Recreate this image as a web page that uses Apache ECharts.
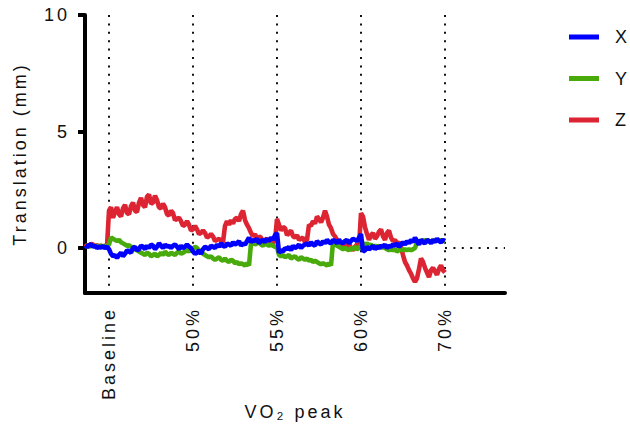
<!DOCTYPE html>
<html>
<head>
<meta charset="utf-8">
<script src="https://cdn.jsdelivr.net/npm/echarts@6.0.0/dist/echarts.min.js"></script>
<style>
  html, body { margin: 0; padding: 0; background: #fff; }
  #chart { width: 630px; height: 430px; }
  #chart text { letter-spacing: 3px; }
</style>
</head>
<body>
<div id="chart"></div>
<script>
// Exercise stages and the sample index at which each stage starts
const stageLabels = ['Baseline', '50%', '55%', '60%', '70%'];
const stageSample = [12, 54, 96, 138, 180];
const sampleCount = 211;          // samples spanned by the x axis
const yTicks = [0, 5, 10];

// Head translation (mm) per sample
const transX = [
  0.1, 0.05, 0.12, 0.15, 0.05, 0.1, 0.0, 0.06, 0.02, 0.08,
  0.0, 0.05, -0.05, -0.25, -0.35, -0.3, -0.42, -0.3, -0.2, -0.35,
  -0.25, -0.1, -0.15, -0.2, 0.0, 0.05, -0.1, -0.05, 0.1, 0.05,
  -0.05, 0.1, 0.0, 0.15, 0.1, -0.05, 0.05, 0.2, 0.1, 0.0,
  0.15, 0.05, 0.1, 0.0, 0.1, 0.15, 0.05, -0.05, 0.1, 0.0,
  0.05, 0.15, 0.05, 0.0, -0.15, -0.25, -0.2, -0.1, -0.25, -0.05,
  0.05, 0.0, -0.05, 0.1, 0.05, 0.0, 0.15, 0.05, 0.2, 0.1,
  0.05, 0.2, 0.15, 0.1, 0.25, 0.15, 0.2, 0.3, 0.1, 0.2,
  0.15, 0.3, 0.45, 0.25, 0.35, 0.3, 0.4, 0.2, 0.3, 0.35,
  0.25, 0.4, 0.3, 0.45, 0.35, 0.55, 0.65, -0.2, -0.1, -0.15,
  0.0, -0.05, 0.05, -0.1, 0.1, 0.0, 0.05, 0.15, 0.0, 0.1,
  0.15, 0.2, 0.1, 0.25, 0.15, 0.1, 0.3, 0.2, 0.15, 0.3,
  0.2, 0.35, 0.25, 0.2, 0.35, 0.3, 0.2, 0.35, 0.25, 0.2,
  0.3, 0.35, 0.2, 0.3, 0.4, 0.35, 0.3, 0.45, 0.6, -0.15,
  -0.1, 0.05, -0.05, 0.0, 0.1, -0.05, 0.05, 0.0, 0.1, 0.05,
  0.15, 0.0, 0.1, 0.05, 0.15, 0.1, 0.2, 0.05, 0.15, 0.25,
  0.15, 0.3, 0.2, 0.35, 0.25, 0.45, 0.3, 0.15, 0.35, 0.25,
  0.2, 0.35, 0.3, 0.2, 0.35, 0.25, 0.4, 0.3, 0.25, 0.35,
  0.3
];
const transY = [
  0.1, 0.08, 0.05, 0.12, 0.1, 0.08, 0.1, 0.05, 0.1, 0.06,
  0.1, 0.08, 0.15, 0.45, 0.4, 0.35, 0.3, 0.35, 0.25, 0.2,
  0.15, 0.1, 0.12, 0.05, 0.0, -0.05, -0.1, -0.15, -0.2, -0.25,
  -0.3, -0.2, -0.25, -0.35, -0.3, -0.25, -0.35, -0.3, -0.2, -0.3,
  -0.15, -0.25, -0.3, -0.2, -0.25, -0.3, -0.2, -0.15, -0.25, -0.2,
  -0.15, -0.1, -0.15, -0.05, -0.05, 0.05, 0.0, -0.1, -0.15, -0.25,
  -0.3, -0.35, -0.4, -0.35, -0.45, -0.5, -0.45, -0.4, -0.5, -0.55,
  -0.45, -0.55, -0.6, -0.5, -0.55, -0.65, -0.6, -0.7, -0.65, -0.7,
  -0.75, -0.65, -0.75, 0.2, 0.25, 0.15, 0.2, 0.25, 0.15, 0.1,
  0.2, 0.15, 0.1, 0.15, 0.1, 0.05, 0.05, -0.3, -0.35, -0.3,
  -0.4, -0.35, -0.3, -0.45, -0.4, -0.35, -0.45, -0.5, -0.4, -0.45,
  -0.5, -0.45, -0.55, -0.5, -0.6, -0.55, -0.6, -0.65, -0.7, -0.65,
  -0.7, -0.75, -0.65, -0.75, 0.25, 0.2, 0.1, 0.05, 0.0, -0.05,
  0.0, -0.05, -0.1, 0.0, -0.05, 0.05, -0.05, 0.0, 0.1, 0.2,
  0.15, 0.2, 0.1, 0.15, 0.05, 0.1, 0.05, 0.1, 0.0, 0.05,
  0.0, -0.05, -0.1, -0.05, -0.1, -0.05, -0.15, -0.1, -0.05, -0.1,
  -0.05, -0.1, -0.05, -0.1, -0.05, 0.0, 0.25, 0.3, 0.3, 0.35,
  0.3, 0.35, 0.3, 0.25, 0.35, 0.3, 0.35, 0.3, 0.35, 0.3,
  0.3
];
const transZ = [
  0.05, 0.12, 0.1, 0.18, 0.15, 0.08, 0.12, 0.06, 0.1, 0.04,
  0.06, 0.08, 1.6, 1.75, 1.3, 1.55, 1.75, 1.45, 1.35, 1.7,
  1.85, 1.5, 1.45, 1.8, 1.95, 1.6, 1.55, 1.95, 2.15, 1.85,
  1.75, 2.2, 2.3, 1.9, 1.95, 2.25, 2.05, 1.75, 1.7, 1.9,
  1.75, 1.45, 1.4, 1.6, 1.5, 1.2, 1.25, 1.3, 1.15, 0.95,
  1.0, 1.15, 1.0, 0.75, 0.8, 0.95, 0.8, 0.6, 0.65, 0.75,
  0.65, 0.45, 0.5, 0.6, 0.5, 0.3, 0.35, 0.4, 0.3, 0.25,
  0.95, 1.15, 1.0, 1.2, 1.05, 1.25, 1.3, 1.15, 1.45, 1.6,
  1.2, 1.0, 0.85, 0.65, 0.5, 0.6, 0.35, 0.5, 0.45, 0.25,
  0.35, 0.4, 0.2, 0.3, 0.25, 0.3, 1.25, 1.0, 0.75, 0.9,
  0.85, 0.55, 0.65, 0.75, 0.5, 0.45, 0.55, 0.35, 0.4, 0.45,
  0.25, 0.35, 1.0, 0.95, 1.15, 1.05, 1.35, 1.25, 1.1, 1.3,
  1.6, 1.35, 1.0, 0.85, 0.6, 0.5, 0.35, 0.3, 0.15, 0.25,
  0.0, 0.1, 0.2, 0.0, -0.1, 0.05, 0.15, 0.05, 1.5, 1.35,
  0.9, 0.6, 0.35, 0.55, 0.65, 0.4, 0.5, 0.7, 0.8, 0.5,
  0.35, 0.65, 0.75, 0.45, 0.3, 0.35, 0.2, 0.25, 0.05, -0.3,
  -0.6, -0.75, -0.95, -1.1, -1.3, -1.45, -1.3, -0.9, -0.45, -0.6,
  -0.85, -1.05, -1.25, -0.95, -0.85, -1.0, -1.15, -0.9, -0.75, -0.95,
  -1.05
];

const categories = Array.from({ length: sampleCount }, (_, i) => String(i));
const font = 'Liberation Sans, Arial, sans-serif';
const ink = '#111';
const dotted = [2, 6.4];
const traceWidth = 4.6;

const chart = echarts.init(document.getElementById('chart'), null, { renderer: 'svg' });

chart.setOption({
  animation: false,
  backgroundColor: '#fff',
  textStyle: { fontFamily: font, color: ink },
  grid: { left: 85, right: 125, top: 15, bottom: 137, containLabel: false },
  legend: {
    data: ['X', 'Y', 'Z'],
    orient: 'vertical',
    left: 569,
    top: 28,
    padding: 0,
    icon: 'rect',
    itemWidth: 30,
    itemHeight: 5,
    itemGap: 23.5,
    textStyle: { fontSize: 18, color: ink, fontFamily: font, padding: [0, 0, 0, 11] }
  },
  xAxis: {
    type: 'category',
    data: categories,
    boundaryGap: false,
    name: 'VO\u2082 peak',
    nameLocation: 'middle',
    nameGap: 110,
    nameTextStyle: { fontSize: 18, color: ink, fontFamily: font },
    axisLine: { onZero: false, lineStyle: { color: '#000', width: 4 } },
    axisTick: { show: false },
    axisLabel: {
      interval: (idx) => stageSample.includes(idx),
      formatter: (val, idx) => stageLabels[stageSample.indexOf(idx)],
      rotate: 90,
      margin: 14,
      fontSize: 18,
      color: ink,
      fontFamily: font
    },
    splitLine: {
      show: true,
      interval: (idx) => stageSample.includes(idx),
      lineStyle: { color: ink, width: 2, type: dotted }
    }
  },
  yAxis: {
    type: 'value',
    min: -1.93,
    max: 10,
    name: 'Translation (mm)',
    nameLocation: 'middle',
    nameGap: 56,
    nameTextStyle: { fontSize: 18, color: ink, fontFamily: font },
    axisLine: { show: true, lineStyle: { color: '#000', width: 4 } },
    axisTick: { show: true, customValues: yTicks, length: 7, lineStyle: { color: '#000', width: 4 } },
    axisLabel: { customValues: yTicks, fontSize: 18, color: ink, fontFamily: font, margin: 15 },
    splitLine: { show: false }
  },
  series: [
    {
      name: 'Z', type: 'line', data: transZ, showSymbol: false,
      lineStyle: { width: traceWidth, color: '#dd2432' }, itemStyle: { color: '#dd2432' }
    },
    {
      name: 'Y', type: 'line', data: transY, showSymbol: false,
      lineStyle: { width: traceWidth, color: '#49aa0c' }, itemStyle: { color: '#49aa0c' }
    },
    {
      name: 'X', type: 'line', data: transX, showSymbol: false,
      lineStyle: { width: traceWidth, color: '#0000ff' }, itemStyle: { color: '#0000ff' },
      markLine: {
        silent: true,
        symbol: 'none',
        label: { show: false },
        lineStyle: { color: ink, width: 2, type: dotted },
        data: [[{ coord: [String(stageSample[4]), 0] }, { coord: [String(sampleCount - 1), 0] }]]
      }
    }
  ]
});
</script>
</body>
</html>
